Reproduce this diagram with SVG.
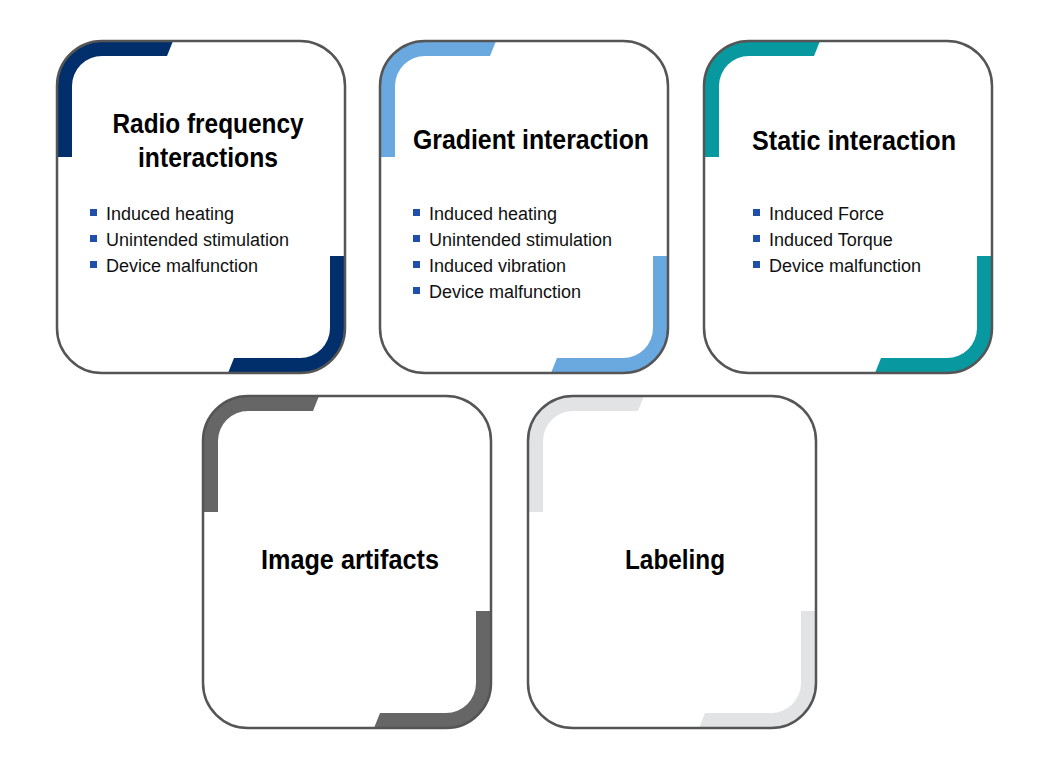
<svg xmlns="http://www.w3.org/2000/svg" width="1042" height="778" viewBox="0 0 1042 778">
<style>
.b{fill:none;stroke:#555;stroke-width:2.5}
.t{font-family:"Liberation Sans",Arial,sans-serif;font-weight:bold;font-size:27px;fill:#000;text-anchor:middle}
.l{font-family:"Liberation Sans",Arial,sans-serif;font-size:18px;fill:#111}
.q{fill:#1f4fa8}
</style>
<defs>
<g id="tl"><path d="M0,116 L0,45 A45,45 0 0 1 45,0 L116,0 L110,15 L45,15 A30,30 0 0 0 15,45 L15,116 Z"/></g>
<g id="br"><path d="M288,215 L288,287 A45,45 0 0 1 243,332 L171,332 L177,317 L243,317 A30,30 0 0 0 273,287 L273,215 Z"/></g>
</defs>
<rect width="1042" height="778" fill="#fff"/>
<g id="node-rf" transform="translate(57,41)">
<rect width="288" height="332" rx="45" fill="#fff"/>
<use href="#tl" fill="#002f6c"/><use href="#br" fill="#002f6c"/>
<rect class="b" width="288" height="332" rx="45"/>
<text class="t" x="151" y="92" textLength="191" lengthAdjust="spacingAndGlyphs">Radio frequency</text>
<text class="t" x="151" y="126" textLength="140" lengthAdjust="spacingAndGlyphs">interactions</text>
<rect class="q" x="33" y="168" width="7" height="7"/><text class="l" x="49" y="179">Induced heating</text>
<rect class="q" x="33" y="194" width="7" height="7"/><text class="l" x="49" y="205">Unintended stimulation</text>
<rect class="q" x="33" y="220" width="7" height="7"/><text class="l" x="49" y="231">Device malfunction</text>
</g>
<g id="node-grad" transform="translate(380,41)">
<rect width="288" height="332" rx="45" fill="#fff"/>
<use href="#tl" fill="#6aa8e0"/><use href="#br" fill="#6aa8e0"/>
<rect class="b" width="288" height="332" rx="45"/>
<text class="t" x="151" y="108" textLength="236" lengthAdjust="spacingAndGlyphs">Gradient interaction</text>
<rect class="q" x="33" y="168" width="7" height="7"/><text class="l" x="49" y="179">Induced heating</text>
<rect class="q" x="33" y="194" width="7" height="7"/><text class="l" x="49" y="205">Unintended stimulation</text>
<rect class="q" x="33" y="220" width="7" height="7"/><text class="l" x="49" y="231">Induced vibration</text>
<rect class="q" x="33" y="246" width="7" height="7"/><text class="l" x="49" y="257">Device malfunction</text>
</g>
<g id="node-static" transform="translate(704,41)">
<rect width="288" height="332" rx="45" fill="#fff"/>
<use href="#tl" fill="#0899a0"/><use href="#br" fill="#0899a0"/>
<rect class="b" width="288" height="332" rx="45"/>
<text class="t" x="150" y="109" textLength="204" lengthAdjust="spacingAndGlyphs">Static interaction</text>
<rect class="q" x="49" y="168" width="7" height="7"/><text class="l" x="65" y="179">Induced Force</text>
<rect class="q" x="49" y="194" width="7" height="7"/><text class="l" x="65" y="205">Induced Torque</text>
<rect class="q" x="49" y="220" width="7" height="7"/><text class="l" x="65" y="231">Device malfunction</text>
</g>
<g id="node-artifacts" transform="translate(203,396)">
<rect width="288" height="332" rx="45" fill="#fff"/>
<use href="#tl" fill="#666"/><use href="#br" fill="#666"/>
<rect class="b" width="288" height="332" rx="45"/>
<text class="t" x="147" y="173" textLength="178" lengthAdjust="spacingAndGlyphs">Image artifacts</text>
</g>
<g id="node-labeling" transform="translate(528,396)">
<rect width="288" height="332" rx="45" fill="#fff"/>
<use href="#tl" fill="#e2e3e5"/><use href="#br" fill="#e2e3e5"/>
<rect class="b" width="288" height="332" rx="45"/>
<text class="t" x="147" y="173" textLength="100" lengthAdjust="spacingAndGlyphs">Labeling</text>
</g>
<g id="connectors"/>
</svg>
